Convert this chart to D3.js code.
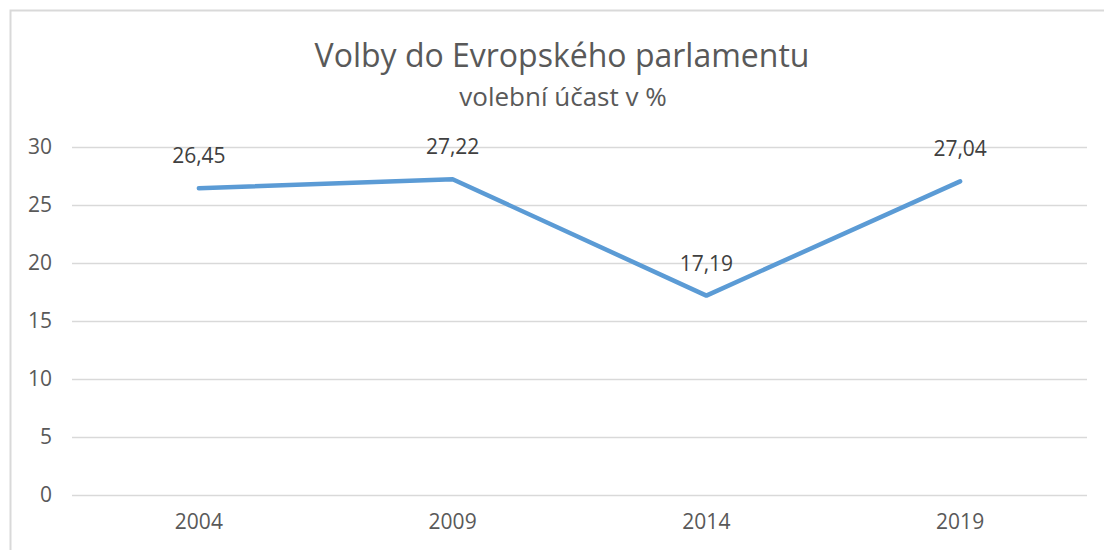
<!DOCTYPE html>
<html lang="cs">
<head>
    <meta charset="UTF-8">
    <script src="https://d3js.org/d3.v7.min.js"></script>
    <style>
        body {
            margin: 0;
            background: #fff;
        }
        svg text {
            font-family: "Open Sans", sans-serif;
        }
    </style>
    <title>Volby do Evropského parlamentu</title>
</head>
<body>
<svg id="chart"></svg>
<script>
    // data
    var years = ["2004", "2009", "2014", "2019"]
    var turnout = [26.45, 27.22, 17.19, 27.04]
    var yTicks = [0, 5, 10, 15, 20, 25, 30]

    var width = 1104, height = 550
    var margin = {top: 147, right: 17, bottom: 55, left: 72}

    var svg = d3.select("#chart")
        .attr("width", width)
        .attr("height", height)

    // frame of the chart area
    svg.append("path")
        .attr("d", "M10.5," + height + "V10.5H" + width)
        .attr("fill", "none")
        .attr("stroke", "#d9d9d9")
        .attr("stroke-width", 2)

    var x = d3.scaleBand()
        .domain(years)
        .range([margin.left, width - margin.right])

    var y = d3.scaleLinear()
        .domain([0, 30])
        .range([height - margin.bottom, margin.top])

    // grid
    svg.append("g")
        .selectAll("line")
        .data(yTicks)
        .enter()
        .append("line")
        .attr("x1", margin.left)
        .attr("x2", width - margin.right)
        .attr("y1", function (d) { return Math.round(y(d)) + 0.5 })
        .attr("y2", function (d) { return Math.round(y(d)) + 0.5 })
        .attr("stroke", "#d9d9d9")
        .attr("stroke-width", 1.5)

    // y axis labels
    var yAxis = d3.axisLeft(y).tickValues(yTicks).tickSize(0).tickPadding(20)
    svg.append("g")
        .attr("transform", "translate(" + margin.left + ",0)")
        .call(yAxis)
        .call(function (g) { g.select(".domain").remove() })
        .selectAll("text")
        .attr("font-size", 21)
        .attr("fill", "#595959")

    // x axis labels
    var xAxis = d3.axisBottom(x).tickSize(0).tickPadding(19)
    svg.append("g")
        .attr("transform", "translate(0," + (height - margin.bottom) + ")")
        .call(xAxis)
        .call(function (g) { g.select(".domain").remove() })
        .selectAll("text")
        .attr("font-size", 21)
        .attr("fill", "#595959")

    var pts = years.map(function (d, i) { return {year: d, v: turnout[i]} })

    var line = d3.line()
        .x(function (d) { return x(d.year) + x.bandwidth() / 2 })
        .y(function (d) { return y(d.v) })

    svg.append("path")
        .datum(pts)
        .attr("d", line)
        .attr("fill", "none")
        .attr("stroke", "#5b9bd5")
        .attr("stroke-width", 4.5)
        .attr("stroke-linejoin", "round")
        .attr("stroke-linecap", "round")

    // data labels
    svg.append("g")
        .selectAll("text")
        .data(pts)
        .enter()
        .append("text")
        .attr("x", function (d) { return x(d.year) + x.bandwidth() / 2 })
        .attr("y", function (d) { return y(d.v) - 25 })
        .attr("text-anchor", "middle")
        .attr("font-size", 21)
        .attr("fill", "#404040")
        .text(function (d) { return d3.format(".2f")(d.v).replace(".", ",") })

    // titles
    svg.append("text")
        .attr("x", 562)
        .attr("y", 67)
        .attr("text-anchor", "middle")
        .attr("font-size", 32)
        .attr("fill", "#595959")
        .text("Volby do Evropského parlamentu")

    svg.append("text")
        .attr("x", 563)
        .attr("y", 106)
        .attr("text-anchor", "middle")
        .attr("font-size", 26)
        .attr("fill", "#595959")
        .text("volební účast v %")
</script>
</body>
</html>
